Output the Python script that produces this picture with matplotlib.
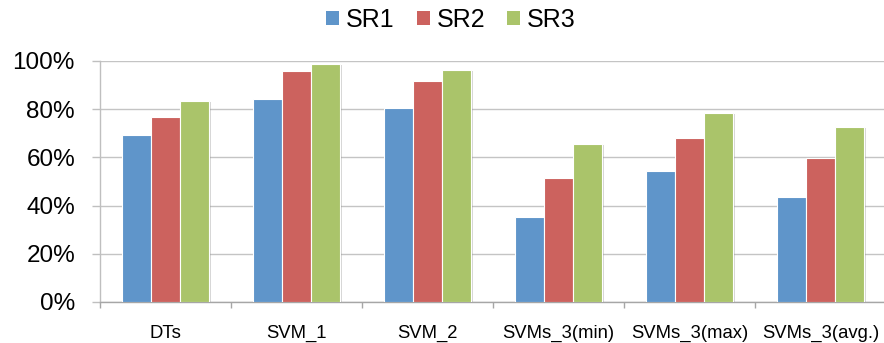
import matplotlib
matplotlib.use("Agg")
import matplotlib.pyplot as plt
import matplotlib.patheffects as pe
from matplotlib.patches import Patch
from matplotlib.ticker import FuncFormatter, MultipleLocator
import numpy as np

categories = ["DTs", "SVM_1", "SVM_2", "SVMs_3(min)", "SVMs_3(max)", "SVMs_3(avg.)"]
series_names = ["SR1", "SR2", "SR3"]
sr1 = [69.3, 84.4, 80.5, 35.3, 54.4, 43.7]
sr2 = [76.9, 95.9, 91.7, 51.5, 67.9, 59.8]
sr3 = [83.5, 98.9, 96.3, 65.6, 78.4, 72.6]
colors = ["#5F95CA", "#CC625E", "#AAC46A"]

plt.rcParams["font.family"] = ["Liberation Sans", "DejaVu Sans"]

fig = plt.figure(figsize=(8.84, 3.43), dpi=100)
ax = fig.add_axes([100 / 884, 1 - 302 / 343, 786 / 884, 241 / 343])

x = np.arange(len(categories))
width = 0.22
shadow = [pe.SimplePatchShadow(offset=(1.5, -1), shadow_rgbFace="#888888", alpha=0.35), pe.Normal()]
for i, (vals, col) in enumerate(zip([sr1, sr2, sr3], colors)):
    bars = ax.bar(x + (i - 1) * width, np.array(vals) / 100, width,
                  color=col, edgecolor="white", linewidth=0.8, zorder=3)
    for b in bars:
        b.set_path_effects(shadow)

ax.set_xlim(-0.5, len(categories) - 0.5)
ax.set_ylim(0, 1)
ax.yaxis.set_major_locator(MultipleLocator(0.2))
ax.yaxis.set_major_formatter(FuncFormatter(lambda v, p: f"{v * 100:.0f}%"))
ax.grid(axis="y", color="#C4C4C4", linewidth=1.0, zorder=0)

ax.set_xticks(x)
ax.set_xticklabels(categories)
ax.set_xticks(np.arange(len(categories) + 1) - 0.5, minor=True)
ax.tick_params(axis="x", which="major", length=0, pad=16.5, labelsize=13.3)
ax.tick_params(axis="x", which="minor", length=4, width=1, color="#A6A6A6", direction="out")
ax.tick_params(axis="y", length=6, width=1, color="#BFBFBF", pad=12, labelsize=17.5)

for s in ["top", "right"]:
    ax.spines[s].set_visible(False)
ax.spines["left"].set_color("#BFBFBF")
ax.spines["bottom"].set_color("#A6A6A6")
ax.spines["left"].set_linewidth(1)
ax.spines["bottom"].set_linewidth(1)

handles = [Patch(facecolor=c, edgecolor="none") for c in colors]
fig.legend(handles, series_names, loc="center", bbox_to_anchor=(451 / 884, 1 - 20 / 343),
           ncol=3, frameon=False, fontsize=18, handlelength=0.52, handleheight=0.48,
           handletextpad=0.27, columnspacing=0.88)

fig.savefig("out.png", dpi=100)
